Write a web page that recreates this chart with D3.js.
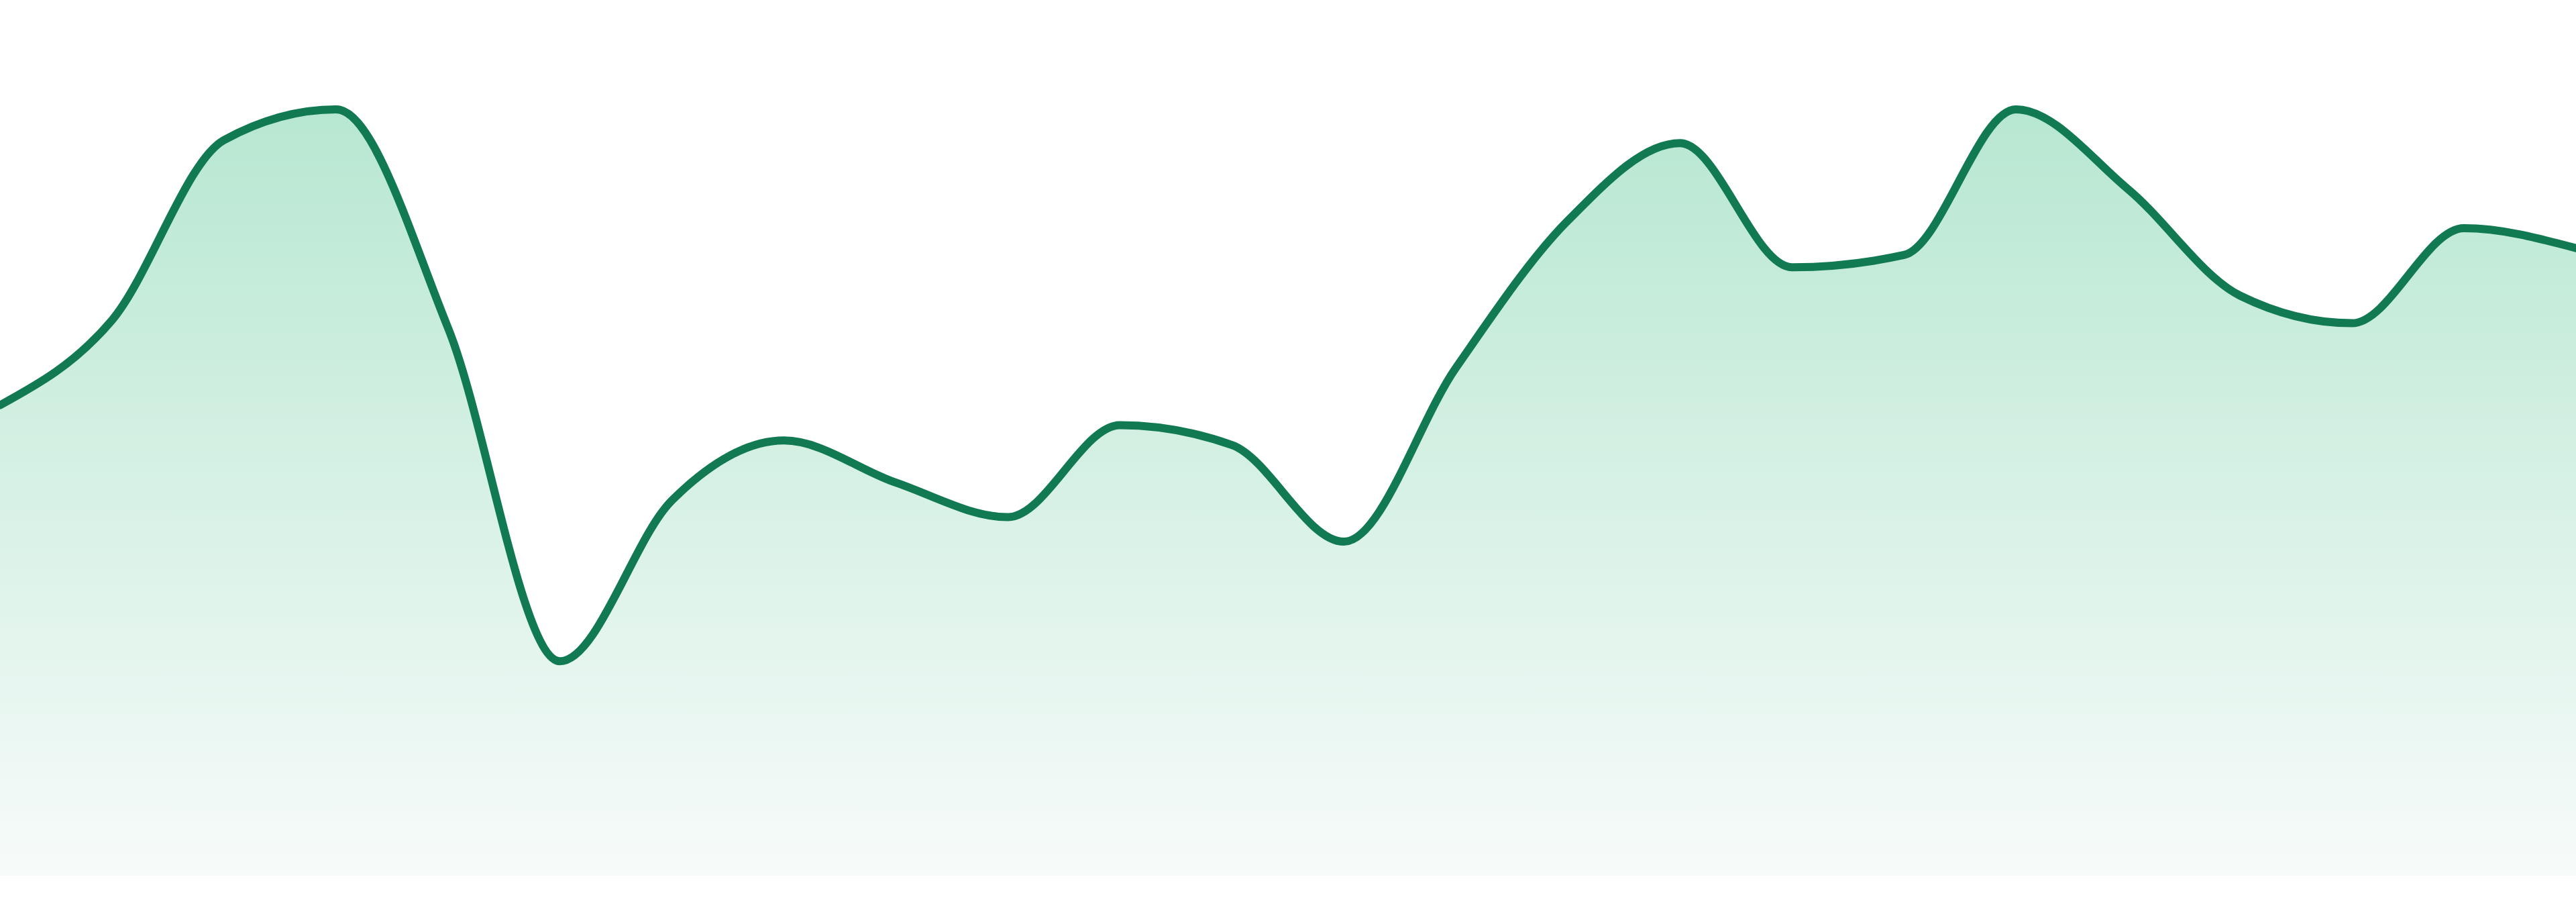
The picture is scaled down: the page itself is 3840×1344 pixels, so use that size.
<!DOCTYPE html>
<html>
<head>
<meta charset="utf-8">
<script src="https://cdn.jsdelivr.net/npm/d3@7"></script>
<style>
  html, body { margin: 0; padding: 0; background: #ffffff; }
  svg { display: block; }
</style>
</head>
<body>
<svg id="chart" width="3840" height="1344"></svg>
<script>
const categories = ["00:00","01:00","02:00","03:00","04:00","05:00","06:00","07:00","08:00","09:00","10:00","11:00",
                    "12:00","13:00","14:00","15:00","16:00","17:00","18:00","19:00","20:00","21:00","22:00","23:00"];
const values = [61.4, 72.5, 96.0, 100, 71.5, 28.0, 49.0, 56.8, 51.3, 46.8, 58.8, 56.2,
                43.6, 66.3, 85.5, 95.6, 79.4, 81.0, 100, 89.6, 75.7, 72.1, 84.5, 81.9];
const yDomain = [0, 100];

const W = 3840, H = 1344;
const margin = {top: 163, right: 0, bottom: 39, left: 0};

const svg = d3.select("#chart");
const x = d3.scalePoint().domain(categories).range([margin.left, W - margin.right]);
const y = d3.scaleLinear().domain(yDomain).range([H - margin.bottom, margin.top]);

const data = categories.map((c, i) => ({c, v: values[i]}));

const defs = svg.append("defs");
const grad = defs.append("linearGradient")
  .attr("id", "fillGrad")
  .attr("gradientUnits", "userSpaceOnUse")
  .attr("x1", 0).attr("x2", 0)
  .attr("y1", y(yDomain[1])).attr("y2", y(yDomain[0]));
grad.append("stop").attr("offset", "0%").attr("stop-color", "#b7e7d1");
grad.append("stop").attr("offset", "100%").attr("stop-color", "#f7fbfa");

const area = d3.area()
  .x(d => x(d.c))
  .y0(y(0))
  .y1(d => y(d.v))
  .curve(d3.curveMonotoneX);

const line = d3.line()
  .x(d => x(d.c))
  .y(d => y(d.v))
  .curve(d3.curveMonotoneX);

svg.append("path")
  .datum(data)
  .attr("d", area)
  .attr("fill", "url(#fillGrad)");

svg.append("path")
  .datum(data)
  .attr("d", line)
  .attr("fill", "none")
  .attr("stroke", "#117a52")
  .attr("stroke-width", 12)
  .attr("stroke-linejoin", "round")
  .attr("stroke-linecap", "round");
</script>
</body>
</html>
